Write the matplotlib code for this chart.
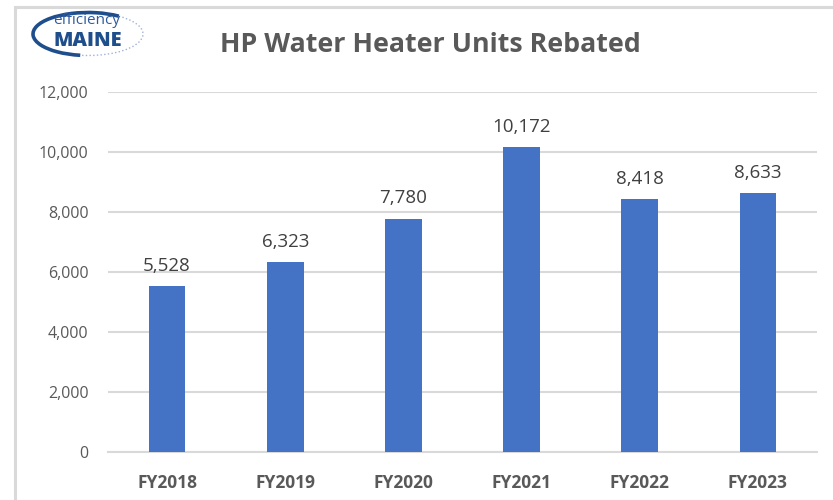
import matplotlib
matplotlib.use("Agg")
import matplotlib.pyplot as plt
from matplotlib.patches import Rectangle, Arc

categories = ["FY2018", "FY2019", "FY2020", "FY2021", "FY2022", "FY2023"]
values = [5528, 6323, 7780, 10172, 8418, 8633]
yticks = [0, 2000, 4000, 6000, 8000, 10000, 12000]

W, H = 833, 500
fig = plt.figure(figsize=(W / 100, H / 100), dpi=100)
fig.patch.set_facecolor("white")

# outer frame
fig.patches.append(Rectangle((15 / W, -0.1), 1.2, 1 - 7 / H + 0.1, transform=fig.transFigure,
                             fill=False, edgecolor="#D9D9D9", linewidth=2.2))

ax = fig.add_axes([108 / W, 1 - 452 / H, (817 - 108) / W, (452 - 92) / H])
x = range(len(categories))
bars = ax.bar(x, values, width=0.31, color="#4472C4", zorder=3)
ax.set_xlim(-0.5, len(categories) - 0.5)
ax.set_ylim(0, 12000)
ax.set_yticks(yticks)
ax.set_yticklabels([f"{v:,}" for v in yticks], fontsize=11.5, color="#595959", family="Open Sans")
ax.set_xticks(list(x))
ax.set_xticklabels(categories, fontsize=12.5, color="#595959", fontweight="bold", family="Open Sans")
ax.tick_params(axis="both", length=0)
ax.tick_params(axis="y", pad=14)
ax.tick_params(axis="x", pad=16)
ax.grid(axis="y", color="#D9D9D9", linewidth=1.5, zorder=0)
for s in ["top", "right", "left"]:
    ax.spines[s].set_visible(False)
ax.spines["bottom"].set_color("#D9D9D9")
ax.spines["bottom"].set_linewidth(1.5)

for xi, v in zip(x, values):
    ax.annotate(f"{v:,}", (xi, v), xytext=(0, 8), textcoords="offset points",
                ha="center", va="bottom", fontsize=13.5, color="#404040", family="Open Sans")

fig.text(430 / W, 1 - 45 / H, "HP Water Heater Units Rebated", ha="center", va="center",
         fontsize=19.3, fontweight="bold", color="#595959", family="Open Sans")

# logo
lax = fig.add_axes([0, 0, 1, 1])
lax.set_xlim(0, W)
lax.set_ylim(H, 0)
lax.axis("off")
lax.patch.set_alpha(0)
lax.add_patch(Arc((88, 34), 110, 43, theta1=110, theta2=330, color="#1F4E8C", linewidth=2.6))
lax.add_patch(Arc((88, 34), 110, 43, theta1=330, theta2=470, color="#9DB3D6", linewidth=1, linestyle=":"))
lax.text(87, 20, "efficiency", ha="center", va="center", fontsize=11, color="#2E5C9E", family="Open Sans")
lax.text(88, 41, "MAINE", ha="center", va="center", fontsize=14.5, fontweight="heavy", color="#1F4E8C", family="Open Sans")

fig.savefig("out.png", dpi=100)
